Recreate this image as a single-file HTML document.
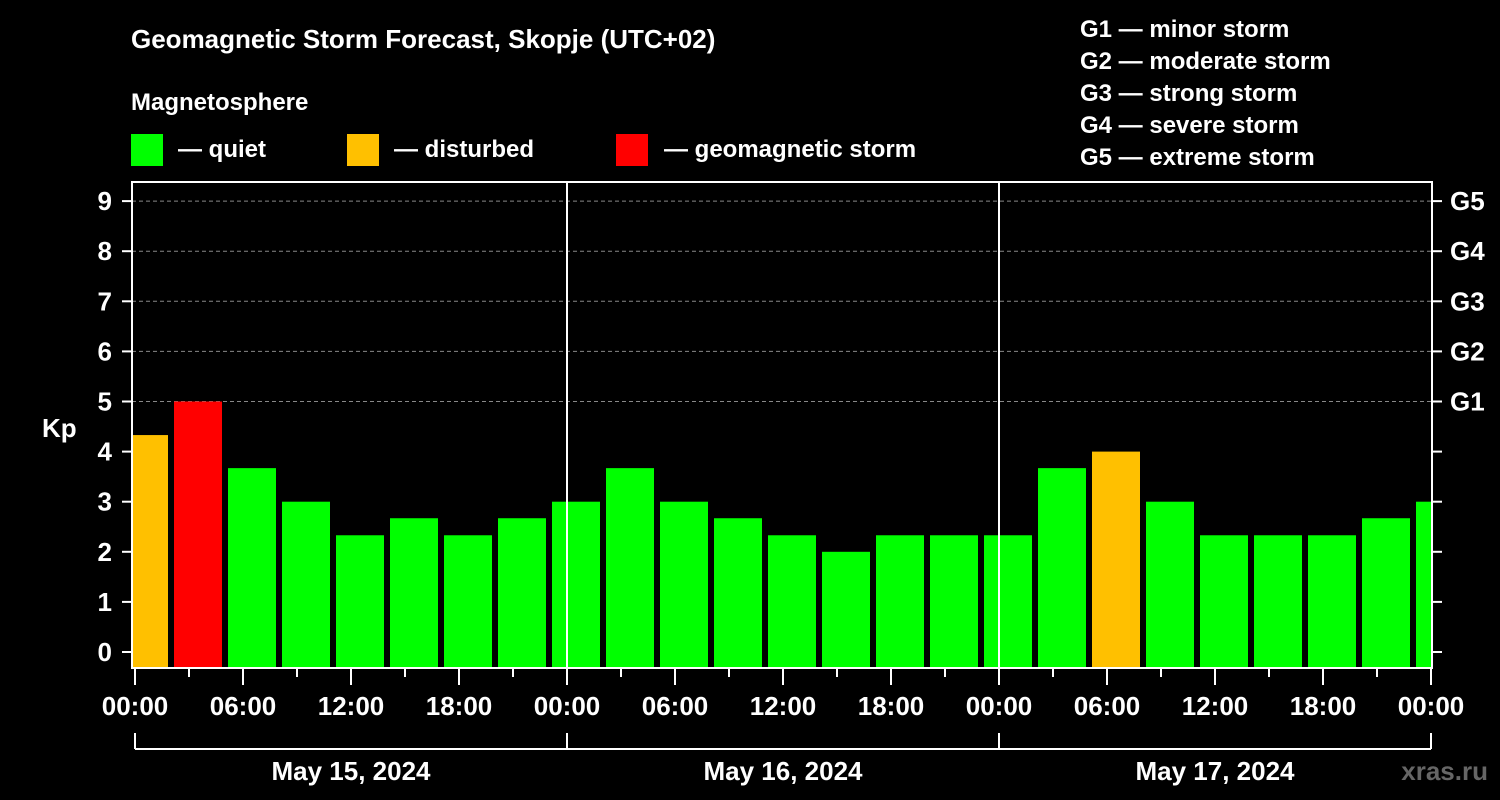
<!DOCTYPE html>
<html><head><meta charset="utf-8"><style>
body{margin:0;background:#000;}
svg{display:block;font-family:"Liberation Sans",Arial,sans-serif;font-weight:bold;}
</style></head><body>
<svg width="1500" height="800" viewBox="0 0 1500 800">
<rect x="0" y="0" width="1500" height="800" fill="#000"/>
<text x="131" y="48" fill="#fff" font-size="26">Geomagnetic Storm Forecast, Skopje (UTC+02)</text>
<text x="131" y="110" fill="#fff" font-size="24">Magnetosphere</text>
<g><rect x="131" y="134" width="32" height="32" fill="#00ff00"/><text x="178" y="157" fill="#fff" font-size="24">— quiet</text></g>
<g><rect x="347" y="134" width="32" height="32" fill="#ffc000"/><text x="394" y="157" fill="#fff" font-size="24">— disturbed</text></g>
<g><rect x="616" y="134" width="32" height="32" fill="#ff0000"/><text x="664" y="157" fill="#fff" font-size="24">— geomagnetic storm</text></g>
<g fill="#fff" font-size="24">
<text x="1080" y="37">G1 — minor storm</text>
<text x="1080" y="69">G2 — moderate storm</text>
<text x="1080" y="101">G3 — strong storm</text>
<text x="1080" y="133">G4 — severe storm</text>
<text x="1080" y="165">G5 — extreme storm</text>
</g>
<text x="42" y="437" fill="#fff" font-size="26">Kp</text>
<text x="1488" y="780" fill="#666" font-size="26" text-anchor="end">xras.ru</text>
<g id="grid"></g>
<g id="bars"></g>
<g id="axes"></g>
</svg>
<script>
const kpValues=[4.33,5,3.67,3,2.33,2.67,2.33,2.67,3,3.67,3,2.67,2.33,2,2.33,2.33,2.33,3.67,4,3,2.33,2.33,2.33,2.67,3];
const xTickLabels=["00:00","06:00","12:00","18:00","00:00","06:00","12:00","18:00","00:00","06:00","12:00","18:00","00:00"];
const dayLabels=["May 15, 2024","May 16, 2024","May 17, 2024"];
const yTickLabels=["0","1","2","3","4","5","6","7","8","9"];
const gLabels=["G1","G2","G3","G4","G5"];
const NS="http://www.w3.org/2000/svg";
const L=132,R=1432,T=182,B=668;
const xh=h=>135+h*18;
const yk=k=>652-k*50.1;
function mk(tag,attrs,parent,text){const e=document.createElementNS(NS,tag);for(const k in attrs)e.setAttribute(k,attrs[k]);if(text!==undefined)e.textContent=text;document.getElementById(parent).appendChild(e);return e;}
// grid
for(let k=5;k<=9;k++){
const g=mk('line',{x1:L,x2:R,y1:yk(k),y2:yk(k),stroke:'#888','stroke-width':1,'stroke-dasharray':'4,3'},'grid');


}
// bars
const clip=mk('clipPath',{id:'pc'},'bars');mk('rect',{x:L,y:T,width:R-L,height:B-T},'bars').remove();
const cr=document.createElementNS(NS,'rect');cr.setAttribute('x',L+1);cr.setAttribute('y',T);cr.setAttribute('width',R-L-1);cr.setAttribute('height',B-T);clip.appendChild(cr);
kpValues.forEach((v,i)=>{
const c=xh(0.5+3*i);
const col=v>=5?'#ff0000':(v>=4?'#ffc000':'#00ff00');
const b=mk('rect',{x:c-24,y:yk(v),width:48,height:B-yk(v),fill:col,'clip-path':'url(#pc)'},'bars');


});
// axes
const fr=mk('rect',{x:L,y:T,width:R-L,height:B-T,fill:'none',stroke:'#fff','stroke-width':2},'axes');


[1,2].forEach(d=>{const l=mk('line',{x1:xh(24*d),x2:xh(24*d),y1:T,y2:B,stroke:'#fff','stroke-width':2},'axes');

});
yTickLabels.forEach((t,k)=>{
mk('line',{x1:122,x2:L,y1:yk(k),y2:yk(k),stroke:'#fff','stroke-width':2},'axes');
mk('line',{x1:R,x2:1442,y1:yk(k),y2:yk(k),stroke:'#fff','stroke-width':2},'axes');
const tx=mk('text',{x:112,y:yk(k)+9,fill:'#fff','font-size':26,'text-anchor':'end'},'axes',t);


});
gLabels.forEach((t,i)=>{const tx=mk('text',{x:1450,y:yk(5+i)+9,fill:'#fff','font-size':26},'axes',t);

});
for(let h=0;h<=72;h+=3){const major=h%6===0;mk('line',{x1:xh(h),x2:xh(h),y1:B,y2:major?685:677,stroke:'#fff','stroke-width':2},'axes');}
xTickLabels.forEach((t,i)=>{const tx=mk('text',{x:xh(6*i),y:715,fill:'#fff','font-size':26,'text-anchor':'middle'},'axes',t);

});
mk('line',{x1:xh(0),x2:xh(72),y1:749,y2:749,stroke:'#fff','stroke-width':2},'axes');
for(let d=0;d<=3;d++)mk('line',{x1:xh(24*d),x2:xh(24*d),y1:733,y2:749,stroke:'#fff','stroke-width':2},'axes');
dayLabels.forEach((t,i)=>{const tx=mk('text',{x:xh(24*i+12),y:780,fill:'#fff','font-size':26,'text-anchor':'middle'},'axes',t);

});
</script>
</body></html>
